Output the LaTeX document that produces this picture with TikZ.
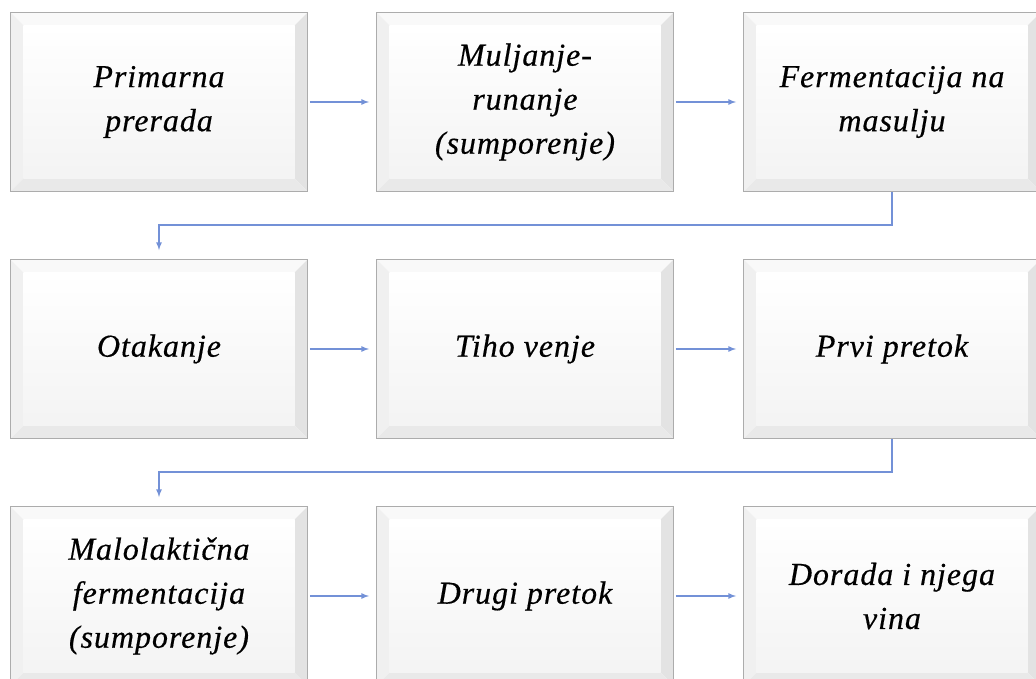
\documentclass[tikz,border=0pt]{standalone}
\usepackage{fontspec}
\setmainfont{Liberation Serif}
\usetikzlibrary{positioning}
\def\bev{13pt}
\tikzset{
  stage/.style={rectangle, draw=gray!65, line width=0.9pt,
    minimum width=297pt, minimum height=179pt, align=center,
    font=\fontsize{32}{44}\selectfont\itshape\addfontfeature{LetterSpace=3,FakeBold=0.4},
    path picture={
      \coordinate (pnw) at (path picture bounding box.north west);
      \coordinate (pne) at (path picture bounding box.north east);
      \coordinate (psw) at (path picture bounding box.south west);
      \coordinate (pse) at (path picture bounding box.south east);
      \fill[gray!5] (pnw) -- (pne) -- ([xshift=-\bev,yshift=-\bev]pne) -- ([xshift=\bev,yshift=-\bev]pnw) -- cycle;
      \fill[gray!12] (pnw) -- (psw) -- ([xshift=\bev,yshift=\bev]psw) -- ([xshift=\bev,yshift=-\bev]pnw) -- cycle;
      \fill[gray!22] (pne) -- (pse) -- ([xshift=-\bev,yshift=\bev]pse) -- ([xshift=-\bev,yshift=-\bev]pne) -- cycle;
      \fill[gray!17] (psw) -- (pse) -- ([xshift=-\bev,yshift=\bev]pse) -- ([xshift=\bev,yshift=\bev]psw) -- cycle;
      \shade[top color=white, bottom color=gray!9]
        ([xshift=\bev,yshift=-\bev]pnw) rectangle ([xshift=-\bev,yshift=\bev]pse);
      \draw[gray!80, line width=1.5pt] (pne) -- (pse) -- (psw);
    }},
  flow/.style={-latex, draw={rgb,255:red,115;green,145;blue,215}, line width=1.6pt},
}
\begin{document}
\begin{tikzpicture}[x=1pt,y=-1pt]
        \useasboundingbox (0,0) rectangle (1036,679);
        % row 1
        \node[stage] (primarna) at (159,102) {Primarna\\prerada};
        \node[stage] (muljanje) at (525,102) {Muljanje-\\runanje\\(sumporenje)};
        \node[stage] (fermentacija) at (892,102) {Fermentacija na\\masulju};
        % row 2
        \node[stage] (otakanje) at (159,349) {Otakanje};
        \node[stage] (tiho) at (525,349) {Tiho venje};
        \node[stage] (prvi) at (892,349) {Prvi pretok};
        % row 3
        \node[stage] (malolakticna) at (159,596) {Malolaktična\\fermentacija\\(sumporenje)};
        \node[stage] (drugi) at (525,596) {Drugi pretok};
        \node[stage] (dorada) at (892,596) {Dorada i njega\\vina};
        % connectors
        \draw[flow,shorten <=2pt,shorten >=7pt] (primarna) -- (muljanje);
        \draw[flow,shorten <=2pt,shorten >=7pt] (muljanje) -- (fermentacija);
        \draw[flow,shorten >=9pt] (fermentacija.south) -- ++(0,33) -| (otakanje.north);
        \draw[flow,shorten <=2pt,shorten >=7pt] (otakanje) -- (tiho);
        \draw[flow,shorten <=2pt,shorten >=7pt] (tiho) -- (prvi);
        \draw[flow,shorten >=9pt] (prvi.south) -- ++(0,33) -| (malolakticna.north);
        \draw[flow,shorten <=2pt,shorten >=7pt] (malolakticna) -- (drugi);
        \draw[flow,shorten <=2pt,shorten >=7pt] (drugi) -- (dorada);
\end{tikzpicture}
\end{document}
